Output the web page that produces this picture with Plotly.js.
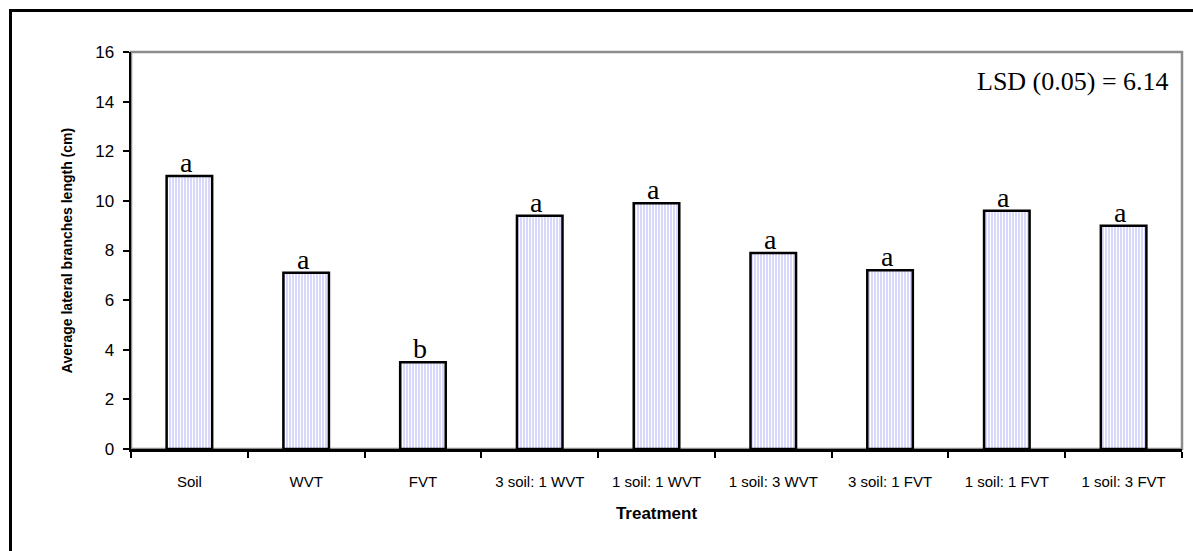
<!DOCTYPE html>
<html>
<head>
<meta charset="utf-8">
<script src="https://cdn.plot.ly/plotly-3.0.1.min.js"></script>
<style>
  html, body { margin: 0; padding: 0; background: #ffffff; }
  #wrap { position: relative; width: 1193px; height: 551px; overflow: hidden; }
  #frame { position: absolute; left: 9px; top: 9px; width: 1200px; height: 600px; border: 3px solid #000; box-sizing: border-box; pointer-events: none; z-index: 5; }
  #chart { position: absolute; left: 0; top: 0; width: 1193px; height: 551px; }
</style>
</head>
<body>
<div id="wrap">
  <div id="chart"></div>
  <div id="frame"></div>
</div>
<script>
// Data
const treatments = ["Soil", "WVT", "FVT", "3 soil: 1 WVT", "1 soil: 1 WVT", "1 soil: 3 WVT", "3 soil: 1 FVT", "1 soil: 1 FVT", "1 soil: 3 FVT"];
const branchLength = [11.0, 7.1, 3.5, 9.4, 9.9, 7.9, 7.2, 9.6, 9.0];
const lsdLetters = ["a", "a", "b", "a", "a", "a", "a", "a", "a"];
const yTicks = [0, 2, 4, 6, 8, 10, 12, 14, 16];
const lsdText = "LSD (0.05) = 6.14";
const yTitle = "Average lateral branches length (cm)";
const xTitle = "Treatment";

const trace = {
  type: "bar",
  x: treatments,
  y: branchLength,
  width: 0.39,
  marker: {
    color: "#d8d8fc",
    line: { color: "#000000", width: 2.5 },
    pattern: { shape: "|", fgcolor: "#ffffff", bgcolor: "#d4d4fa", size: 3, solidity: 0.4 }
  },
  hoverinfo: "x+y"
};

const annotations = treatments.map((t, i) => ({
  x: t, y: branchLength[i], xref: "x", yref: "y",
  text: lsdLetters[i], showarrow: false,
  yanchor: "bottom", xanchor: "center", yshift: -4, xshift: -3,
  font: { family: "Liberation Serif, Times New Roman, serif", size: 28, color: "#000" }
}));
annotations.push({
  x: 0.99, y: 0.926, xref: "paper", yref: "paper",
  text: lsdText, showarrow: false, xanchor: "right", yanchor: "middle",
  font: { family: "Liberation Serif, Times New Roman, serif", size: 26, color: "#000" }
});

const layout = {
  width: 1193, height: 551,
  margin: { l: 131, r: 11, t: 52, b: 102, pad: 0 },
  paper_bgcolor: "#ffffff",
  plot_bgcolor: "#ffffff",
  showlegend: false,
  bargap: 0.61,
  font: { family: "Liberation Sans, Arial, sans-serif", color: "#000" },
  xaxis: {
    type: "category",
    showline: true, linecolor: "#000", linewidth: 2.5,
    ticks: "outside", ticklen: 6, tickwidth: 2, tickcolor: "#000",
    tickson: "boundaries",
    ticklabelstandoff: 17,
    tickfont: { family: "Liberation Sans, Arial, sans-serif", size: 15, color: "#000" },
    showgrid: false, zeroline: false,
    title: { text: "<b>" + xTitle + "</b>", font: { family: "Liberation Sans, Arial, sans-serif", size: 17, color: "#000" }, standoff: 19 }
  },
  yaxis: {
    range: [0, 16],
    tickvals: yTicks,
    showline: true, linecolor: "#000", linewidth: 2.5,
    ticks: "outside", ticklen: 6, tickwidth: 2, tickcolor: "#000",
    ticklabelstandoff: 5,
    tickfont: { family: "Liberation Sans, Arial, sans-serif", size: 17, color: "#000" },
    showgrid: false, zeroline: false,
    title: { text: "<b>" + yTitle + "</b>", font: { family: "Liberation Sans, Arial, sans-serif", size: 14, color: "#000" }, standoff: 20 }
  },
  shapes: [{
    type: "rect", xref: "paper", yref: "paper", x0: 0, x1: 1, y0: 0, y1: 1,
    line: { color: "#8c8c8c", width: 2.5 }, layer: "below"
  }],
  annotations: annotations
};

Plotly.newPlot("chart", [trace], layout, { displayModeBar: false, staticPlot: true });
</script>
</body>
</html>
